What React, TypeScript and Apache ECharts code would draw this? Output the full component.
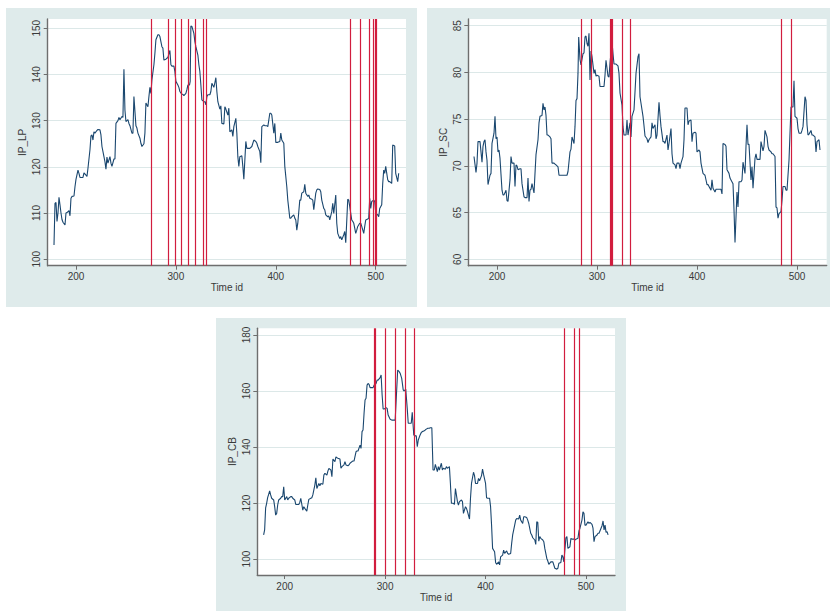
import React, { useEffect, useRef } from "react";
import * as echarts from "echarts";

// ---------- IP_LP ----------
const LP_T = [178,179,180,181,182,183,184,185,186,187,189,190,191,193,194,195,196,198,199,200,202,203,204,207,208,210,211,212,214,215,216,217,218,219,220,222,224,225,226,228,229,230,231,232,234,235,236,238,239,240,242,243,244,246,247,248,249,250,252,253,254,256,257,258,260,261,262,264,265,266,268,269,270,272,273,274,275,276,278,279,280,282,283,284,286,287,288,290,291,292,294,295,296,298,299,300,302,303,304,306,307,308,310,311,312,313.6,314.3,315,316,318,319,320,322,323,324,325,326,328,329,330,331,332,334,335,336,338,339,340,341,342,344,345,346,348,349,350,352,353,354,356,357,358,360,361,362,363,364,366,367,368,370,371,372,374,376,378,380,381,382,384,385,386,388,389,391,392,394,395,396,398,399,400,402,404,405,406,408,409,410,411,412,414,415,416,418,419,420,421,422,424,425,426,428,429,430,432,433,434,436,437,438,440,441,442,444,445,446,448,449,450,452,453,454,456,457,458,460,461,462,464,465,466,468,469,470,472,473,474,476,477,478,480,481,482,484,485,486,488,489,490,492,493,494,495,496,498,499,500,502,503,504,506,507,508,509,510,512,513,514,516,517,519,520,522,523];
const LP_V = [103.1,112.1,112.3,108.2,110.0,113.4,111.8,110.0,108.6,108.0,107.4,110.0,110.1,110.5,109.4,113.2,113.6,113.7,115.7,117.3,119.3,118.6,117.7,117.7,118.7,118.2,117.9,119.7,123.7,126.7,126.9,125.8,127.6,127.3,127.6,128.1,128.0,126.9,124.4,122.2,121.1,119.5,122.1,120.8,122.2,120.8,120.1,121.7,121.7,129.4,130.0,130.7,130.2,130.9,130.7,141.1,132.3,129.8,130.2,129.4,128.9,127.3,127.3,135.2,128.9,128.4,127.3,126.2,125.1,124.4,125.0,127.3,133.8,133.0,135.2,137.2,135.9,138.8,142.1,144.6,147.5,148.6,148.6,148.2,146.0,145.7,143.1,143.3,143.5,143.7,145.2,142.1,141.8,141.8,140.6,138.5,137.7,137.2,136.3,135.7,135.7,135.4,135.9,136.7,137.7,137.7,138.5,150.5,150.4,148.9,147.1,146.0,144.2,142.1,140.6,137.7,134.5,134.1,134.1,133.4,135.2,135.6,135.6,136.3,138.1,137.2,138.2,139.3,136.3,134.1,132.5,133.2,129.4,129.3,133.0,132.5,131.2,132.7,127.6,128.0,126.6,128.7,130.5,127.3,122.2,120.1,122.2,122.4,120.1,117.3,125.5,124.0,124.0,124.0,124.4,125.8,125.5,125.1,124.4,123.3,120.9,128.7,129.1,128.9,128.9,128.7,131.6,131.6,131.2,127.3,129.4,125.3,125.3,125.5,127.3,125.8,125.1,120.1,117.9,115.7,112.8,108.9,108.9,109.2,109.6,108.9,108.5,106.3,107.8,112.8,112.8,114.3,114.6,116.2,114.3,113.6,113.9,113.2,113.0,112.8,110.7,114.3,115.0,115.2,115.1,114.6,112.8,111.0,110.7,109.6,109.2,109.4,108.5,110.3,112.1,109.9,113.9,107.8,105.6,104.5,104.9,104.2,105.3,106.0,103.6,113.0,112.8,111.4,108.5,108.2,107.8,105.6,106.3,107.1,107.8,107.8,107.1,105.6,107.1,108.5,108.7,108.9,113.2,111.0,112.5,112.8,112.5,110.0,109.6,109.2,111.0,111.8,116.4,119.3,118.6,120.1,117.2,116.8,116.8,116.4,124.7,124.5,118.6,116.8,118.6];
const LP_EVENTS = [275,292,299,305,312,319,327,330,475,485,494,498,499.5,501];
const LP_TICKS = [100,110,120,130,140,150];

// ---------- IP_SC ----------
const SC_T = [177,179,180,181,183,185,186,187,188,189,190,191,193,194,195,197,198,199,200,201,202,203,205,206,207,209,210,211,213,214,215,217,218,219,220,221,223,224,225,227,228,230,231,232,233,234,235,237,238,239,241,242,243,245,246,247,248,249,250,251,253,254,255,257,258,259,261,262,265,268,270,271,273,274,275,277,278,279,280,281,281.7,282.3,283,284,286,287,288,289,290,291,292,293,294,295,297,298,299,300,302,303,305,307,308,309,311,312,313,315,316,317,319,321,322,323,325,326,327,329,330,331,333,334,335,337,338,339,341,342,343,344,346,347,348,350,351,352,354,355,356,358,359,360,362,363,364,366,367,368,370,371,372,374,375,376,378,379,380,382,383,384,386,387,388,390,391,392,394,395,396,398,399,400,402,403,404,406,407,408,410,411,412,414,415,416,418,419,420,422,424,425,426,428,429,430,432,433,434,436,437,438,440,441,442,444,445,446,448,449,450,451,452,454,455,456,458,459,460,462,463,464,466,467,468,470,471,472,474,475,476,478,479,480,481,482,484,485,486,488,489,490,492,493,494,496,497,498,500,501,502,504,505,506,508,509,510,511,512,514,515,516,518,519,520,522,523];
const SC_V = [71.0,69.3,70.3,72.6,72.6,70.4,72.1,72.6,72.8,71.5,70.6,68.0,69.0,69.2,72.4,73.5,75.3,72.9,73.1,71.5,71.7,70.8,67.4,66.9,66.9,67.4,66.3,66.2,68.5,71.0,70.3,70.3,67.8,70.1,70.0,69.6,69.7,69.7,68.1,66.7,66.6,66.6,68.7,66.2,67.4,67.5,68.1,67.1,69.2,71.2,72.8,74.6,75.3,75.4,76.7,76.0,76.3,75.4,73.3,73.3,73.1,72.9,70.3,70.3,70.2,70.1,69.9,69.0,69.0,69.0,69.0,69.4,71.5,71.8,73.1,72.4,74.2,77.0,77.2,79.9,83.8,83.8,81.4,80.8,82.0,82.1,83.8,83.9,83.1,82.8,84.2,79.2,82.3,81.7,79.9,80.3,79.6,79.7,79.6,78.5,78.5,78.5,79.7,81.3,79.6,79.5,81.0,83.3,82.0,80.9,80.9,80.7,79.9,77.8,76.5,74.2,73.3,73.3,74.9,73.3,74.6,73.1,75.3,76.0,77.9,79.9,81.7,82.0,77.4,76.7,75.3,74.3,73.2,72.9,72.5,72.8,73.1,74.6,74.0,74.4,72.9,73.3,76.8,75.4,74.2,72.6,72.6,72.4,73.3,71.7,72.4,74.0,71.3,70.3,70.1,69.7,70.3,70.3,69.7,70.3,71.0,72.8,76.2,76.2,74.4,74.8,74.9,72.6,73.5,73.6,73.5,71.5,71.7,71.5,70.3,69.2,69.1,69.0,68.0,68.0,67.8,67.4,68.5,67.6,67.2,67.5,67.5,67.5,67.5,67.0,72.4,72.3,72.1,69.6,69.2,68.7,68.5,68.1,65.3,61.8,67.2,65.6,68.3,68.3,68.5,70.4,69.2,72.1,74.4,72.3,72.3,68.5,69.9,67.6,70.8,71.3,70.7,70.7,70.7,72.6,71.6,72.1,73.8,73.1,72.1,71.7,71.5,71.3,71.3,71.0,65.6,65.5,64.4,64.9,65.1,66.3,67.8,67.8,67.4,67.4,70.6,73.5,76.3,76.3,79.1,75.3,75.1,74.0,73.5,73.5,73.8,74.2,77.4,77.0,74.4,73.3,73.4,73.8,73.3,73.3,73.1,71.5,72.6,72.8,71.7];
const SC_EVENTS = [284,294,313,314,315,325,333,484,494];
const SC_TICKS = [60,65,70,75,80,85];

// ---------- IP_CB ----------
const CB_T = [179,180,181,182,183,184,185,186,187,189,190,191,192,193,194,196,197,198,199,200,202,203,204,206,207,208,210,211,212,214,215,216,218,219,220,222,223,224,226,227,228,230,231,232,234,235,236,238,239,240,242,243,244,246,247,248,250,251,252,253,255,256,257,259,260,261,263,264,265,267,268,269,271,272,273,275,276,277,278,279,280,281,282,283,284,285,287,288,289,291,292,293,295,296,297,298,299,301,302,303,305,307,309,310,311,312.5,314,315,316.5,318,319,320.5,322,323,324.5,326,327,328.5,330,331,332,333,334.5,336,337,338.5,340,341,342.5,344,345,346.5,347.7,349,350,352,353,354,356,357,358,360,361,362,364,365,366,368,369,370,372,373,374,376,377,378,380,381,382,384,385,386,388,389,390,392,393,394,396,397,398,400,401,402,404,405,406,407,409,410,411,413,414,415,417,418,419,421,422,423,425,426,427,429,430,431,433,434,435,437,438,439,441,442,443,445,446,447,449,450,451,452,453,454,455,457,458,459,461,462,463,465,466,467,469,471,472,473,475,476,477,478,480,481,482,484,485,486,488,489,490,492,493,494,496,497,498,499,500,502,503,504,506,507,508,509,511,512,513,515,516,517,518,519,520,521,522];
const CB_V = [108.6,110.4,118.3,119.9,121.9,123.1,124.3,122.9,121.7,121.1,118.7,115.7,116.3,119.3,121.1,121.7,122.3,122.3,125.8,121.1,122.3,121.1,121.7,122.3,122.3,121.7,121.1,119.5,119.5,119.5,120.2,121.7,117.5,118.7,118.1,117.1,119.3,121.3,121.7,121.9,122.9,126.4,129.0,125.2,127.0,126.2,127.0,126.7,130.0,130.6,130.0,131.4,132.4,131.8,129.4,135.7,134.8,136.5,136.2,136.0,135.7,132.4,133.0,133.6,134.8,133.6,133.3,133.6,134.2,134.8,135.0,135.0,138.3,138.6,138.6,140.7,139.5,145.5,146.1,152.0,156.8,157.4,162.1,162.7,162.4,161.2,161.2,161.2,162.1,162.7,163.9,163.9,164.8,165.7,158.6,153.6,153.6,154.0,153.8,151.4,149.9,149.6,149.6,149.6,156.8,167.5,166.9,166.3,164.5,160.4,160.0,160.7,153.8,148.5,148.5,148.5,152.4,144.3,144.0,144.0,140.1,142.5,144.0,145.2,145.5,145.7,146.1,146.4,146.7,146.7,146.9,146.9,131.8,131.8,133.8,131.2,133.0,131.8,134.2,131.8,132.4,132.1,133.0,132.4,133.0,127.0,119.9,119.9,119.5,125.2,120.5,119.3,120.5,121.1,120.5,116.3,118.7,118.1,116.9,114.3,121.7,127.0,131.0,129.8,127.0,127.0,128.8,127.9,129.8,132.1,130.2,127.0,121.9,121.7,121.7,118.7,112.1,103.8,102.6,98.8,98.1,99.0,97.9,100.8,101.4,103.2,102.0,102.9,102.0,101.7,102.0,105.6,108.6,112.1,113.9,114.5,114.3,115.7,113.9,112.7,115.1,115.1,114.8,113.9,112.7,109.2,108.6,107.6,106.8,105.2,113.3,113.1,106.4,108.0,107.4,106.8,106.2,103.8,100.2,99.3,98.1,99.0,99.0,99.0,96.7,96.4,96.7,98.5,98.8,101.4,100.8,99.0,107.6,108.0,103.8,104.4,107.4,107.1,107.1,106.8,107.1,107.4,110.0,111.0,113.9,116.9,116.3,112.1,112.1,113.3,112.7,113.1,112.4,111.0,106.2,108.0,108.6,109.2,109.2,111.0,111.9,113.6,110.4,112.1,109.5,109.8,108.6];
const CB_EVENTS = [289,290,300,310,320,329,478.4,488,493.6];
const CB_TICKS = [100,120,140,160,180];

const X_TICKS = [200,300,400,500];

const FONT = "'Liberation Sans', Arial, Helvetica, sans-serif";
const BG = "#dfebeb";
const GRIDLINE = "#dce8e8";
const NAVY = "#1a476f";
const RED = "#d11d3e";
const AXIS = "#6e6e6e";
const TEXT = "#3a3a3a";

const PANELS = [
  { name: "IP_LP", t: LP_T, v: LP_V, ev: LP_EVENTS, ticks: LP_TICKS,
    grid: { left: 47.7, top: 19, width: 358.3, height: 246.7 },
    xr: [171.7, 530.3], yr: [98.6, 152.0], bg: [6, 8, 411, 299] },
  { name: "IP_SC", t: SC_T, v: SC_V, ev: SC_EVENTS, ticks: SC_TICKS,
    grid: { left: 468.3, top: 19, width: 358.4, height: 246.7 },
    xr: [171.3, 529.7], yr: [59.32, 85.72], bg: [427, 8, 410, 299] },
  { name: "IP_CB", t: CB_T, v: CB_V, ev: CB_EVENTS, ticks: CB_TICKS,
    grid: { left: 257.3, top: 328.3, width: 357.7, height: 246.7 },
    xr: [172.7, 528.9], yr: [94.3, 182.4], bg: [216, 318, 410, 293] },
];

export default function App() {
  const ref = useRef<HTMLDivElement>(null);
  useEffect(() => {
    document.body.style.margin = "0";
    const chart = echarts.init(ref.current!, null, { renderer: "svg" });
    const grid: any[] = [];
    const xAxis: any[] = [];
    const yAxis: any[] = [];
    const series: any[] = [];
    const graphic: any[] = [];
    PANELS.forEach((p, i) => {
      graphic.push({
        type: "rect", z: -100, silent: true,
        shape: { x: p.bg[0], y: p.bg[1], width: p.bg[2], height: p.bg[3] },
        style: { fill: BG },
      });
      grid.push({ ...p.grid, show: true, backgroundColor: "#ffffff", borderWidth: 0 });
      xAxis.push({
        type: "value", gridIndex: i, min: p.xr[0], max: p.xr[1],
        axisLine: { show: true, onZero: false, lineStyle: { color: AXIS, width: 1.4 } },
        axisTick: { show: true, customValues: X_TICKS, length: 4, lineStyle: { color: AXIS, width: 1 } },
        axisLabel: { customValues: X_TICKS, fontSize: 10, color: TEXT, margin: 6, fontFamily: FONT },
        splitLine: { show: false },
        name: "Time id", nameLocation: "middle", nameGap: 17,
        nameTextStyle: { fontSize: 10, color: TEXT, fontFamily: FONT },
      });
      yAxis.push({
        type: "value", gridIndex: i, min: p.yr[0], max: p.yr[1],
        axisLine: { show: true, lineStyle: { color: AXIS, width: 1.4 } },
        axisTick: { show: true, customValues: p.ticks, length: 4, lineStyle: { color: AXIS, width: 1 } },
        axisLabel: { customValues: p.ticks, rotate: 90, fontSize: 10, color: TEXT, margin: 6, fontFamily: FONT },
        splitLine: { show: true, lineStyle: { color: GRIDLINE, width: 1.2 } },
        name: p.name, nameLocation: "middle", nameGap: 20, nameRotate: 90,
        nameTextStyle: { fontSize: 10, color: TEXT, fontFamily: FONT },
      });
      series.push({
        type: "line", xAxisIndex: i, yAxisIndex: i, data: [], z: 2, silent: true,
        markLine: {
          silent: true, symbol: ["none", "none"], label: { show: false },
          emphasis: { disabled: true },
          lineStyle: { color: RED, width: 1.2, type: "solid", opacity: 1 },
          data: p.ev.map((x) => ({ xAxis: x })),
        },
      });
      series.push({
        type: "line", xAxisIndex: i, yAxisIndex: i, z: 3, silent: true,
        showSymbol: false, symbol: "none",
        lineStyle: { color: NAVY, width: 1.1 },
        data: p.t.map((x, j) => [x, p.v[j]]),
      });
    });
    chart.setOption({
      animation: false,
      backgroundColor: "#ffffff",
      textStyle: { fontFamily: FONT },
      graphic, grid, xAxis, yAxis, series,
    });
    return () => chart.dispose();
  }, []);
  return <div ref={ref} style={{ width: 830, height: 612 }} />;
}
